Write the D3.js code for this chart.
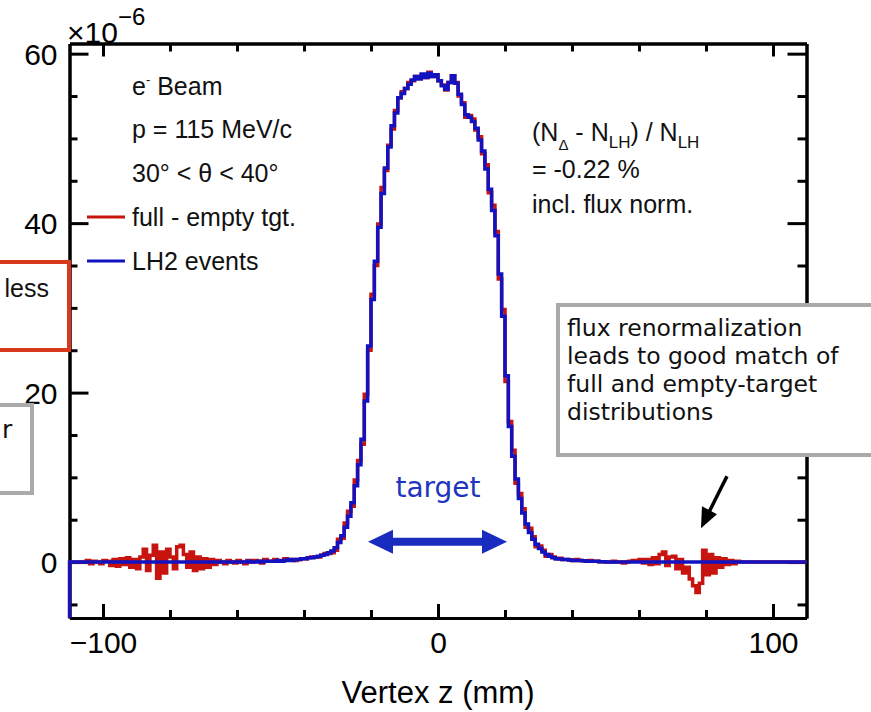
<!doctype html>
<html>
  <head>
    <meta charset="utf-8">
    <script src="https://cdnjs.cloudflare.com/ajax/libs/d3/7.8.5/d3.min.js"></script>
    <style>
      body { margin: 0; background: #fff; }
      svg { font-family: "Liberation Sans", Arial, sans-serif; }
      .frame path.domain { stroke: #000; stroke-width: 3; }
      .frame line { stroke: #000; stroke-width: 3; }
      .frame text { font-size: 30px; fill: #000; font-family: "Liberation Sans", Arial, sans-serif; }
      .note { font-size: 25px; fill: #111; }
      .comic { font-family: "Comic Sans MS", "DejaVu Sans", sans-serif; }
      path.hist { fill: none; stroke-width: 3.5; }
    </style>
  </head>
  <body>
    <svg id="chart" width="871" height="712"></svg>
    <script>
      // histogram bins, 1 mm wide, lower edges from -110 mm to 109 mm
      var binStart = -110, binWidth = 1;

      // LH2 events (x 1e-6)
      var lh2 = [
        0,0,0,0,0,0,0,0,0,0,
        0,0,0,0,0,0,0,0,0,0,
        0,0,0,0,0,0,0,0,0,0,
        0,0,0,0,0,0,0,0,0,0,
        0,0,0,0,0,0,0,0,0,0,
        0,0,0,0.1,0,0,0.1,0,0.1,0.1,
        0.1,0.1,0.2,0.1,0.2,0.3,0.2,0.3,0.3,0.4,
        0.4,0.5,0.5,0.6,0.7,0.8,0.9,1.1,1.3,1.7,
        2.3,3.1,4.1,5.4,7.0,9.0,11.5,14.5,19.0,25.5,
        31.0,35.5,39.5,43.5,46.5,49.0,51.5,53.0,54.8,55.3,
        55.9,56.4,56.9,57.3,57.0,57.6,57.2,57.7,57.3,57.5,
        56.8,56.2,55.8,56.6,57.4,56.5,55.2,54.0,52.8,52.5,
        52.0,51.2,49.8,48.5,46.4,44.0,41.5,38.5,34.0,29.0,
        22.0,16.0,12.5,9.8,7.5,5.8,4.5,3.5,2.7,2.1,
        1.6,1.2,0.9,0.7,0.5,0.4,0.35,0.3,0.3,0.25,
        0.2,0.2,0.2,0.15,0.1,0.1,0.1,0.1,0.05,0.05,
        0,0,0,0,0,0,0,0,0,0,
        0,0,0,0,0,0,0,0,0,0,
        0,0,0,0,0,0,0,0,0,0,
        0,0,0,0,0,0,0,0,0,0,
        0,0,0,0,0,0,0,0,0,0,
        0,0,0,0,0,0,0,0,0,0
      ];

      // (full - empty tgt.) minus LH2, per bin (x 1e-6)
      var fullMinusLh2 = [
        0,0,0,0,0,0.2,-0.2,0.1,0,-0.2,
        0.2,0.1,-0.4,0.3,-0.5,0.4,-0.3,0.5,-0.6,0.3,
        -0.8,0.6,1.5,-1.0,0.8,2.0,-1.9,1.2,-1.3,1.5,
        0.6,-0.8,1.8,2.0,0.9,-0.6,1.2,-1.0,0.6,-0.8,
        0.4,-0.6,0.3,-0.3,0.2,0,-0.2,0.2,0,-0.1,
        0.2,0,-0.2,0.1,0,0.2,0,-0.1,0.2,0,
        0,0.2,-0.1,0,0.2,0,0.1,-0.1,0,0,
        0,0,0.1,0,-0.1,0,0.1,-0.1,-0.2,-0.3,
        0.4,-0.3,0.5,0.6,-0.4,0.7,0.5,-0.6,0.8,-0.5,
        0.6,-0.5,0.4,0.7,-0.3,0.2,-0.4,0.3,0,0.2,
        0,0.2,-0.1,0,0.1,-0.1,0,0.1,0,0,
        0,0.1,-0.1,0,0,0.1,-0.2,0.2,-0.3,0.2,
        0.3,-0.2,0.4,-0.3,0.5,-0.4,0.6,0.5,-0.6,0.8,
        -0.7,0.6,0.7,-0.5,0.6,0.5,-0.4,0.5,0.3,-0.3,
        0.3,0.2,-0.2,0.2,0.1,0,0.1,0,0,0,
        0,0.1,0,0,0,0.1,0,0,0,0,
        0,0,0.1,0,0,-0.1,0,0.1,0.2,0.1,
        0.3,-0.1,0.3,-0.3,0.5,-0.2,0.9,1.2,-0.4,0.6,
        0.7,-0.8,0.3,-1.3,-0.6,-2.0,-2.8,-3.6,-2.5,1.4,
        -1.5,0.9,-1.3,0.5,-0.6,0.4,-0.3,0.2,-0.2,0.1,
        0,0,0,0,0,0,0,0,0,0,
        0,0,0,0,0,0,0,0,0,0
      ];

      var xMajor = [-100, 0, 100];
      var xMinor = [-80, -60, -40, -20, 20, 40, 60, 80];
      var yMajor = [0, 20, 40, 60];
      var yMinor = [-5, 5, 10, 15, 25, 30, 35, 45, 50, 55];

      var beamInfo = ["e", "p = 115 MeV/c", "30\u00b0 < \u03b8 < 40\u00b0"];
      var legendLabels = ["full - empty tgt.", "LH2 events"];
      var legendColors = ["#c8140f", "#1212c0"];
      var boxLines = ["flux renormalization", "leads to good match of",
                      "full and empty-target", "distributions"];

      drawChart();

      function drawChart() {
        var svg = d3.select("#chart");
        var x = d3.scaleLinear().domain([-110, 110]).range([69.5, 806.5]);
        var y = d3.scaleLinear().domain([-6.6, 61.2]).range([618, 43.5]);
        var x0 = x.range()[0], x1 = x.range()[1];
        var yTop = y.range()[1], yBot = y.range()[0];

        // axes (frame)
        function frame(axis, tr, vals, size, labels, pad) {
          return svg.append("g").attr("class", "frame").attr("transform", tr)
            .call(axis.tickValues(vals).tickSize(size).tickSizeOuter(0).tickPadding(pad || 3)
              .tickFormat(labels ? d3.format("d") : ""));
        }
        frame(d3.axisBottom(x), "translate(0," + yBot + ")", xMinor, -8);
        frame(d3.axisBottom(x), "translate(0," + yBot + ")", xMajor, -14, true, 12)
          .selectAll("text").attr("dy", "0.75em");
        frame(d3.axisTop(x), "translate(0," + yTop + ")", xMinor, -8);
        frame(d3.axisTop(x), "translate(0," + yTop + ")", xMajor, -13);
        frame(d3.axisLeft(y), "translate(" + x0 + ",0)", yMinor, -8);
        frame(d3.axisLeft(y), "translate(" + x0 + ",0)", yMajor, -19, true, 12)
          .selectAll("text").attr("dy", "0.36em");
        frame(d3.axisRight(y), "translate(" + x1 + ",0)", yMinor, -9);
        frame(d3.axisRight(y), "translate(" + x1 + ",0)", yMajor, -19);

        // cut-off boxes from the slide on the left
        svg.append("rect").attr("x", -20).attr("y", 262).attr("width", 89).attr("height", 88)
          .attr("fill", "none").attr("stroke", "#d8381c").attr("stroke-width", 4);
        svg.append("text").attr("class", "note").attr("x", 49).attr("y", 297)
          .attr("text-anchor", "end").attr("font-size", 23).text("less");
        svg.append("rect").attr("x", -20).attr("y", 405).attr("width", 52).attr("height", 88)
          .attr("fill", "none").attr("stroke", "#a9abab").attr("stroke-width", 4);
        svg.append("text").attr("class", "note comic").attr("x", 2).attr("y", 438)
          .attr("font-size", 23).text("r");

        // scale factor
        var mult = svg.append("text").attr("x", 67).attr("y", 43).attr("font-size", 30);
        mult.append("tspan").text("\u00d710");
        mult.append("tspan").attr("dy", -18).attr("font-size", 24).text("\u22126");

        svg.append("text").attr("x", (x0 + x1) / 2).attr("y", 703)
          .attr("text-anchor", "middle").attr("font-size", 31).text("Vertex z (mm)");

        // histograms
        svg.append("clipPath").attr("id", "clip").append("rect")
          .attr("x", x0 - 2).attr("y", yTop).attr("width", x1 - x0 + 4).attr("height", yBot - yTop + 2);

        function steps(vals) {
          var pts = [[binStart, y.domain()[0]]];
          vals.forEach(function (v, i) { pts.push([binStart + i * binWidth, v]); });
          pts.push([binStart + vals.length * binWidth, vals[vals.length - 1]]);
          return pts;
        }
        var line = d3.line().x(function (d) { return x(d[0]); }).y(function (d) { return y(d[1]); })
          .curve(d3.curveStepAfter);
        var full = lh2.map(function (v, i) { return v + fullMinusLh2[i]; });

        var plot = svg.append("g").attr("clip-path", "url(#clip)");
        plot.append("path").attr("class", "hist").attr("stroke", legendColors[0]).attr("d", line(steps(full)));
        plot.append("path").attr("class", "hist").attr("stroke", legendColors[1]).attr("d", line(steps(lh2)));

        // beam info and legend
        var info = svg.append("g").attr("class", "note");
        var t0 = info.append("text").attr("x", 132).attr("y", 95);
        t0.append("tspan").text(beamInfo[0]);
        t0.append("tspan").attr("dy", -11).attr("font-size", 13).text("-");
        t0.append("tspan").attr("dy", 11).text(" Beam");
        info.append("text").attr("x", 132).attr("y", 138).text(beamInfo[1]);
        info.append("text").attr("x", 132).attr("y", 182).text(beamInfo[2]);
        legendLabels.forEach(function (l, i) {
          var ly = 217 + i * 44;
          info.append("line").attr("x1", 87).attr("x2", 125).attr("y1", ly).attr("y2", ly)
            .attr("stroke", legendColors[i]).attr("stroke-width", 3);
          info.append("text").attr("x", 132).attr("y", ly + 9).text(l);
        });

        // asymmetry note
        var r1 = info.append("text").attr("x", 532).attr("y", 141);
        r1.append("tspan").text("(N");
        r1.append("tspan").attr("dy", 9).attr("font-size", 15).text("\u0394");
        r1.append("tspan").attr("dy", -9).text(" - N");
        r1.append("tspan").attr("dy", 7).attr("font-size", 17).text("LH");
        r1.append("tspan").attr("dy", -7).text(") / N");
        r1.append("tspan").attr("dy", 7).attr("font-size", 17).text("LH");
        info.append("text").attr("x", 532).attr("y", 178).text("= -0.22 %");
        info.append("text").attr("x", 532).attr("y", 213).text("incl. flux norm.");

        // target arrow
        var ay = y(2.4);
        var ax0 = x(-20.9), ax1 = x(20.6);
        svg.append("line").attr("x1", ax0 + 20).attr("x2", ax1 - 20).attr("y1", ay).attr("y2", ay)
          .attr("stroke", "#1a2cc0").attr("stroke-width", 8);
        svg.append("path").attr("fill", "#1a2cc0")
          .attr("d", "M" + ax0 + "," + ay + "l25,-12v24z M" + ax1 + "," + ay + "l-25,-12v24z");
        svg.append("text").attr("class", "comic").attr("x", x(0)).attr("y", 497)
          .attr("text-anchor", "middle").attr("font-size", 28).attr("fill", "#2235bf").text("target");

        // comment box
        svg.append("rect").attr("x", 558).attr("y", 305).attr("width", 330).attr("height", 150)
          .attr("fill", "#fff").attr("stroke", "#a9abab").attr("stroke-width", 4);
        var bt = svg.append("text").attr("class", "comic").attr("font-size", 23.5).attr("fill", "#111");
        boxLines.forEach(function (l, i) {
          bt.append("tspan").attr("x", 567).attr("y", 336 + i * 28).text(l);
        });

        // arrow pointing at the right-hand residual
        var tipX = x(78.5), tipY = y(4.0);
        svg.append("line").attr("x1", tipX + 26).attr("y1", tipY - 52).attr("x2", tipX + 8).attr("y2", tipY - 16)
          .attr("stroke", "#000").attr("stroke-width", 3.5);
        svg.append("path").attr("fill", "#000")
          .attr("d", "M" + tipX + "," + tipY + "l1,-22l15,8z");
      }
    </script>
  </body>
</html>
